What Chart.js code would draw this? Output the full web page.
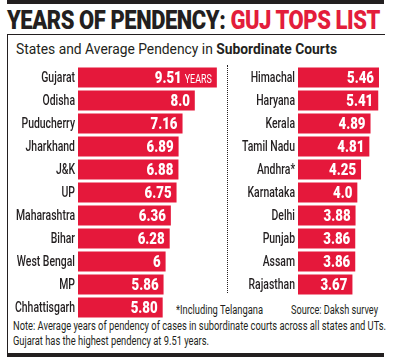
<!DOCTYPE html>
<html>
<head>
<meta charset="utf-8">
<script src="https://cdn.jsdelivr.net/npm/chart.js@4"></script>
<style>
  body { margin: 0; background: #fff; width: 394px; height: 359px; overflow: hidden; position: relative;
         font-family: Roboto, "Liberation Sans", sans-serif; color: #231f20; }
  .abs { position: absolute; }
  .fit { white-space: nowrap; transform-origin: 0 0; }
  #topbar { left: 7px; top: 0; width: 377px; height: 4px; background: #231f20; }
  #title { left: 7px; top: 5px; font: 900 26px "Roboto", sans-serif; letter-spacing: -0.5px; }
  #title span { color: #e31d3b; }
  #box { left: 7px; top: 34px; width: 377px; height: 320px; border-left: 1px solid #231f20; border-top: 1px solid #231f20; }
  #subtitle { left: 16px; top: 41px; font-size: 14px; }
  #subtitle b { font-weight: 700; }
  #sep { left: 227px; top: 65px; height: 228px; border-left: 1px dotted #231f20; }
  #bottombar { left: 7px; top: 353px; width: 377px; height: 4px; background: #231f20; }
  .note { font-size: 12px; }
  canvas { position: absolute; }
</style>
</head>
<body>
<div class="abs" id="topbar"></div>
<div class="abs fit" id="title" data-w="373">YEARS OF PENDENCY: <span>GUJ TOPS LIST</span></div>
<div class="abs" id="box"></div>
<div class="abs fit" id="subtitle" data-w="321">States and Average Pendency in <b>Subordinate Courts</b></div>
<div class="abs" id="sep"></div>
<div class="abs fit note" data-w="87" style="left:176px; top:303px;">*Including Telangana</div>
<div class="abs fit note" data-w="87" style="left:291px; top:303px;">Source: Daksh survey</div>
<div class="abs fit note" data-w="373" style="left:13px; top:319px;">Note: Average years of pendency of cases in subordinate courts across all states and UTs.</div>
<div class="abs fit note" data-w="196" style="left:13px; top:334px;">Gujarat has the highest pendency at 9.51 years.</div>
<div class="abs" id="bottombar"></div>

<div class="abs" style="left:0; top:66px; width:224px; height:253px;"><canvas id="left"></canvas></div>
<div class="abs" style="left:227px; top:66px; width:160px; height:230px;"><canvas id="right"></canvas></div>

<script>
const leftStates = ["Gujarat", "Odisha", "Puducherry", "Jharkhand", "J&K", "UP", "Maharashtra", "Bihar", "West Bengal", "MP", "Chhattisgarh"];
const leftValues = ["9.51", "8.0", "7.16", "6.89", "6.88", "6.75", "6.36", "6.28", "6", "5.86", "5.80"];

const rightStates = ["Himachal", "Haryana", "Kerala", "Tamil Nadu", "Andhra*", "Karnataka", "Delhi", "Punjab", "Assam", "Rajasthan"];
const rightValues = ["5.46", "5.41", "4.89", "4.81", "4.25", "4.0", "3.88", "3.86", "3.86", "3.67"];

const RED = "#e5183b";
const INK = "#231f20";

// squeeze the html texts to the widths of the printed page
document.querySelectorAll(".fit").forEach((el) => {
  const w = el.getBoundingClientRect().width;
  el.style.transform = `scaleX(${Number(el.dataset.w) / w})`;
});

const LABEL_FONT = "500 14px Roboto, sans-serif";
const VALUE_FONT = "900 17px Roboto, sans-serif";
const UNIT_FONT = "12px Roboto, sans-serif";

const probe = document.createElement("canvas").getContext("2d");
probe.font = LABEL_FONT;
const labelSqueeze = 60 / probe.measureText("Chhattisgarh").width;
probe.font = VALUE_FONT;
const valueSqueeze = 27 / probe.measureText("6.36").width;

function squeezedText(ctx, text, x, y, k) {
  ctx.save();
  ctx.translate(x, y);
  ctx.scale(k, 1);
  ctx.fillText(text, 0, 0);
  ctx.restore();
  return ctx.measureText(text).width * k;
}

// category names left of the bars, and white figures at the bar ends
const barTexts = {
  id: "barTexts",
  afterDatasetsDraw(chart, args, opts) {
    const ctx = chart.ctx;
    const yScale = chart.scales.y;
    const meta = chart.getDatasetMeta(0);
    ctx.save();
    ctx.textBaseline = "middle";
    ctx.textAlign = "right";

    ctx.fillStyle = INK;
    ctx.font = LABEL_FONT;
    chart.data.labels.forEach((name, i) => {
      squeezedText(ctx, name, yScale.right - 3, yScale.getPixelForValue(i) + 1, labelSqueeze);
    });

    ctx.fillStyle = "#fff";
    meta.data.forEach((bar, i) => {
      let x = bar.x - 5;
      const y = bar.y + 1;
      if (opts.unit && i === 0) {
        ctx.font = UNIT_FONT;
        x -= squeezedText(ctx, opts.unit, x, y + 1, labelSqueeze) + 3;
      }
      ctx.font = VALUE_FONT;
      squeezedText(ctx, opts.texts[i], x, y, valueSqueeze);
    });
    ctx.restore();
  },
};

function makeChart(id, states, values, max, axisWidth, unit) {
  return new Chart(document.getElementById(id), {
    type: "bar",
    data: {
      labels: states,
      datasets: [{
        data: values.map(Number),
        backgroundColor: RED,
        borderWidth: 0,
        categoryPercentage: 1,
        barPercentage: 0.86,
      }],
    },
    options: {
      indexAxis: "y",
      responsive: true,
      maintainAspectRatio: false,
      animation: false,
      layout: { padding: 0 },
      scales: {
        x: { min: 0, max: max, display: false },
        y: {
          grid: { display: false },
          border: { display: false },
          ticks: { display: false },
          afterFit(scale) { scale.width = axisWidth; },
        },
      },
      plugins: {
        legend: { display: false },
        tooltip: { enabled: false },
        barTexts: { texts: values, unit: unit },
      },
    },
    plugins: [barTexts],
  });
}

makeChart("left", leftStates, leftValues, 10, 78, "YEARS");
makeChart("right", rightStates, rightValues, 6, 71, null);
</script>
</body>
</html>
